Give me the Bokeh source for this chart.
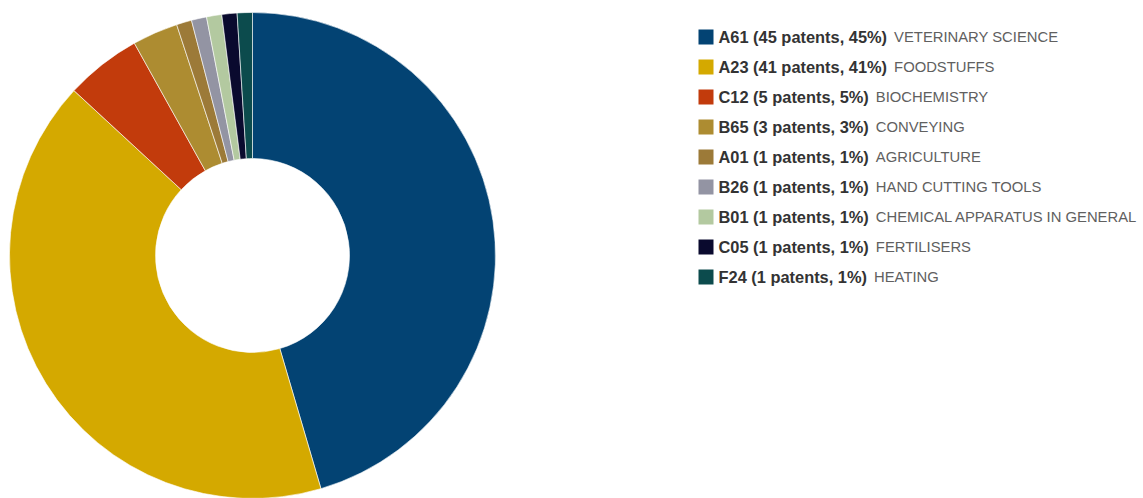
import math
from bokeh.plotting import figure
from bokeh.models import Range1d, ColumnDataSource
from bokeh.core.properties import value
from bokeh.embed import file_html
from bokeh.resources import INLINE

codes = ["A61", "A23", "C12", "B65", "A01", "B26", "B01", "C05", "F24"]
counts = [45, 41, 5, 3, 1, 1, 1, 1, 1]
descriptions = ["VETERINARY SCIENCE", "FOODSTUFFS", "BIOCHEMISTRY", "CONVEYING",
                "AGRICULTURE", "HAND CUTTING TOOLS", "CHEMICAL APPARATUS IN GENERAL",
                "FERTILISERS", "HEATING"]
colors = ["#034373", "#d4a900", "#c23b0c", "#ad8c31", "#9c7a38", "#9394a3",
          "#b3c9a0", "#0a0a2e", "#0c4b4d"]

W, H = 1143, 498
total = sum(counts)
fracs = [c / total for c in counts]
pcts = [round(f * 100) for f in fracs]

starts, ends = [], []
cum = 0.0
for f in fracs:
    ends.append(math.pi / 2 - cum * 2 * math.pi)
    cum += f
    starts.append(math.pi / 2 - cum * 2 * math.pi)

p = figure(width=W, height=H, output_backend="svg", toolbar_location=None,
           x_range=Range1d(0, W), y_range=Range1d(0, H), min_border=0)
p.axis.visible = False
p.grid.visible = False
p.outline_line_color = None
p.background_fill_color = "white"
p.border_fill_color = "white"

cx, cy = 252, H - 255
src = ColumnDataSource(dict(start=starts, end=ends, color=colors))
p.annular_wedge(x=cx, y=cy, inner_radius=97, outer_radius=243,
                start_angle="start", end_angle="end", direction="anticlock",
                fill_color="color", line_color="white", line_width=0.6, source=src)

# legend
bold_w = {" ": 278, "%": 889, "(": 333, ")": 333, ",": 278, "A": 722, "B": 722,
          "C": 722, "F": 611, "a": 556, "e": 556, "n": 611, "p": 611, "s": 556, "t": 333}
fb = 16.4
fr = 14.8
labels = [f"{c} ({n} patents, {pc}%)" for c, n, pc in zip(codes, counts, pcts)]
ys = [H - (36.5 + 30 * i) for i in range(len(codes))]
tx = 718
widths = [sum(bold_w.get(ch, 556) for ch in s) / 1000 * fb for s in labels]
dx = [tx + w + 7 for w in widths]

p.rect(x=[705.5] * len(codes), y=ys, width=15, height=15, fill_color=colors, line_color=None)
p.text(x=[tx] * len(codes), y=ys, text=labels, text_font=value("Liberation Sans"),
       text_font_size=f"{fb}px", text_font_style="bold", text_color="#333333",
       text_baseline="middle", text_align="left")
p.text(x=dx, y=ys, text=descriptions, text_font=value("Liberation Sans"),
       text_font_size=f"{fr}px", text_color="#606060",
       text_baseline="middle", text_align="left")

open("out.html", "w").write(file_html(p, INLINE))
